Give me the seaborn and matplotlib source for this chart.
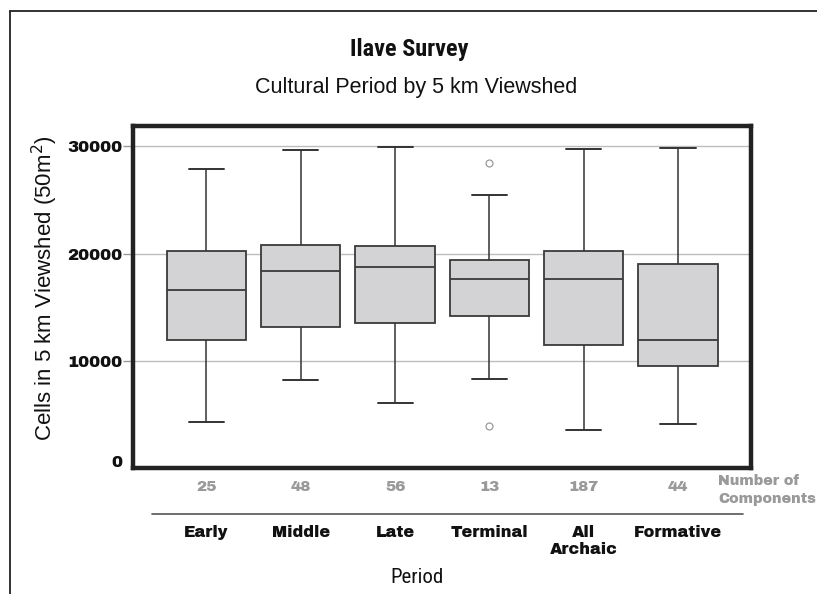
import matplotlib
matplotlib.use("Agg")
import matplotlib.pyplot as plt
import matplotlib.transforms as mtransforms
from matplotlib.lines import Line2D
import numpy as np
import pandas as pd
import seaborn as sns

# Five-number summaries per cultural period (cells in 5 km viewshed)
periods = ["Early", "Middle", "Late", "Terminal", "All\nArchaic", "Formative"]
whisker_low = [4300, 8230, 6070, 8260, 3550, 4070]
quartile_1 = [11930, 13190, 13500, 14160, 11430, 9470]
medians = [16600, 18400, 18740, 17630, 17630, 11930]
quartile_3 = [20200, 20790, 20730, 19420, 20200, 19020]
whisker_high = [27860, 29660, 29970, 25500, 29790, 29810]
# Outlying sites (Terminal only)
outlier_period = ["Terminal", "Terminal"]
outlier_values = [28480, 3930]
n_components = [25, 48, 56, 13, 187, 44]
y_ticks = [0, 10000, 20000, 30000]

# Long-form table whose quartiles and whisker ends reproduce the summaries
rows = []
for p, lo, a, m, b, hi in zip(periods, whisker_low, quartile_1, medians,
                              quartile_3, whisker_high):
    extra = [v for q, v in zip(outlier_period, outlier_values) if q == p]
    if extra:
        vals = [lo, a, a, m, b, b, hi] + extra
    else:
        vals = [lo, a, m, b, hi]
    rows += [(p, v) for v in vals]
df = pd.DataFrame(rows, columns=["period", "cells"])

sns.set_theme(style="white")
plt.rcParams["font.family"] = ["Liberation Sans", "DejaVu Sans"]

HEAVY = ["Archivo Black", "Liberation Sans", "DejaVu Sans"]
NARROW = ["Roboto Condensed", "Liberation Sans", "DejaVu Sans"]

fig = plt.figure(figsize=(8.17, 5.94), dpi=100)
ax = fig.add_axes([0.1628, 0.2121, 0.7564, 0.5758])

edge = "#3a3a3a"
sns.boxplot(
    data=df, x="period", y="cells", order=periods, ax=ax,
    width=0.84, color="#d3d3d5", linecolor=edge, linewidth=1.3,
    whis=1.5, fliersize=5,
    flierprops=dict(marker="o", markerfacecolor="none",
                    markeredgecolor="#9a9a9a", markeredgewidth=0.9),
    whiskerprops=dict(color="#333333", linewidth=1.1),
    capprops=dict(color="#333333", linewidth=1.4),
    medianprops=dict(color=edge, linewidth=1.3),
    boxprops=dict(facecolor="#d3d3d5", edgecolor=edge, linewidth=1.3),
)

# Narrow whisker caps
cap_half = 0.186
for cont in ax.containers:
    caps = getattr(cont, "caps", None)
    if caps is None:
        continue
    for cap in caps:
        xd = np.asarray(cap.get_xdata(), dtype=float)
        c = xd.mean()
        cap.set_xdata([c - cap_half, c + cap_half])

ax.set_xlim(-0.779, 5.774)
ax.set_ylim(0, 31900)
ax.set_yticks(y_ticks)
ax.set_yticklabels([str(t) for t in y_ticks], fontsize=12, family=HEAVY,
                   color="#111111")
ax.set_xticks([])
ax.set_xlabel("")
ax.set_ylabel("")
ax.yaxis.grid(True, color="#bdbdbd", linewidth=1.0)
ax.set_axisbelow(True)
ax.tick_params(axis="y", which="major", left=True, length=7, width=1,
               color="#9a9a9a", pad=1)
# zero tick: no mark, label lifted to sit inside the frame height
ax.yaxis.get_major_ticks()[0].tick1line.set_visible(False)
zero_lbl = ax.get_yticklabels()[0]
zero_lbl.set_transform(zero_lbl.get_transform() +
                       mtransforms.ScaledTranslation(0, 7 / 100, fig.dpi_scale_trans))
for s in ax.spines.values():
    s.set_visible(True)
    s.set_color("#222222")
    s.set_linewidth(3.2)

# Titles and axis captions
fig.text(0.5006, 0.916, "Ilave Survey", ha="center", va="center",
         fontsize=17.5, fontweight="bold", family=NARROW, color="#111111")
fig.text(0.509, 0.852, "Cultural Period by 5 km Viewshed", ha="center",
         va="center", fontsize=15.5, color="#111111")
fig.text(0.055, 0.515, "Cells in 5 km Viewshed (50m$^2$)", ha="center",
         va="center", rotation=90, fontsize=16, color="#111111")
fig.text(0.510, 0.027, "Period", ha="center", va="center", fontsize=15,
         family=NARROW, color="#111111")

# Component counts and period names below the frame
blend = mtransforms.blended_transform_factory(ax.transData, fig.transFigure)
for i, (p, n) in enumerate(zip(periods, n_components)):
    ax.text(i, 0.180, str(n), transform=blend, ha="center", va="center",
            fontsize=11, family=HEAVY, color="#9a9a9a", clip_on=False)
    ax.text(i, 0.1165, p, transform=blend, ha="center", va="top",
            fontsize=11.5, family=HEAVY, color="#111111",
            linespacing=1.22, clip_on=False)
fig.text(0.879, 0.175, "Number of\nComponents", ha="left", va="center",
         fontsize=10.3, family=HEAVY, color="#9a9a9a", linespacing=1.4)

fig.add_artist(Line2D([0.186, 0.909], [0.1347, 0.1347], transform=fig.transFigure,
                      color="#555555", linewidth=1.2))

# Page border lines at top and left
fig.add_artist(Line2D([0.0122, 1.0], [0.9815, 0.9815], transform=fig.transFigure,
                      color="#222222", linewidth=1.3))
fig.add_artist(Line2D([0.0122, 0.0122], [0.0, 0.9815], transform=fig.transFigure,
                      color="#222222", linewidth=1.3))

fig.savefig("out.png", dpi=100, facecolor="white")
